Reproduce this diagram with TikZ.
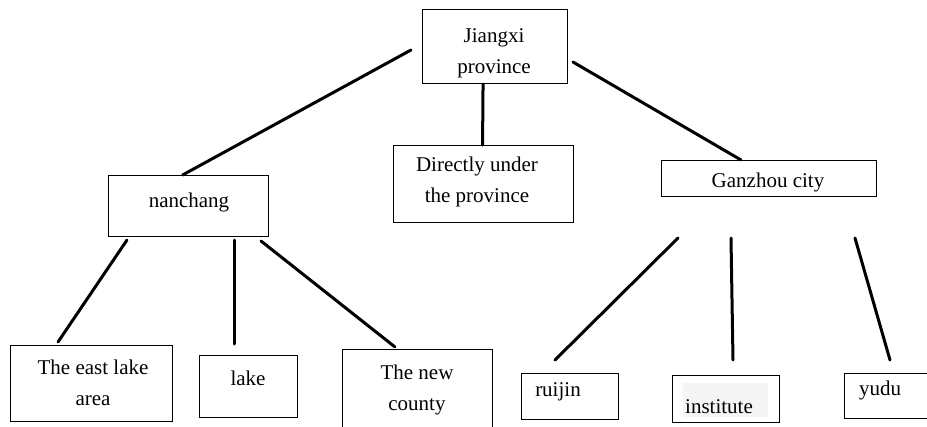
\documentclass[tikz,border=0pt]{standalone}
\usepackage{fontspec}
\setmainfont{Liberation Serif}
\begin{document}
\begin{tikzpicture}[x=1pt,y=-1pt,
  box/.style={draw,line width=1.1pt,inner sep=0pt,anchor=north west},
  lbl/.style={anchor=base,inner sep=0pt,align=center,font=\fontsize{21}{31}\selectfont},
  link/.style={line width=3pt,line cap=round}]
\useasboundingbox (0,0) rectangle (927,426);
% boxes: top-left corner, width, height
\node[box,minimum width=145pt,minimum height=74pt] (jx) at (422,9) {};
\node[box,minimum width=180pt,minimum height=77pt] (du) at (393,145) {};
\node[box,minimum width=160pt,minimum height=61pt] (nc) at (108,175) {};
\node[box,minimum width=215pt,minimum height=36pt] (gz) at (661,160) {};
\node[box,minimum width=162pt,minimum height=76pt] (el) at (10,345) {};
\node[box,minimum width=98pt,minimum height=62pt] (lk) at (199,355) {};
\node[box,minimum width=150pt,minimum height=80pt] (nw) at (342,349) {};
\node[box,minimum width=97pt,minimum height=46pt] (rj) at (521,373) {};
\node[box,minimum width=107pt,minimum height=47pt] (in) at (672,375) {};
\node[box,minimum width=90pt,minimum height=45pt] (yd) at (844,373) {};
\fill[black!4] (683,383) rectangle (768,417);
% texts (anchored at the baseline of the last line)
\node[lbl] (jx-t) at (494,73) {Jiangxi\\province};
\node[lbl] (du-t) at (477,202) {Directly under\\the province};
\node[lbl] (nc-t) at (189,207) {nanchang};
\node[lbl] (gz-t) at (768,187) {Ganzhou city};
\node[lbl] (el-t) at (93,405) {The east lake\\area};
\node[lbl] (lk-t) at (248,385) {lake};
\node[lbl] (nw-t) at (417,410) {The new\\county};
\node[lbl] (rj-t) at (558,396) {ruijin};
\node[lbl] (in-t) at (719,413) {institute};
\node[lbl] (yd-t) at (880,395) {yudu};
% free ends of the hand-drawn branches
\coordinate (jx-l) at (411,50);
\coordinate (jx-r) at (573,62);
\coordinate (nc-a) at (127,240);
\coordinate (nc-b) at (234,240);
\coordinate (nc-c) at (261,241);
\coordinate (gz-a) at (678,238);
\coordinate (gz-b) at (731,238);
\coordinate (gz-c) at (855,238);
\coordinate (el-e) at (58,342);
\coordinate (lk-e) at (234,344);
\coordinate (nw-e) at (395,347);
\coordinate (rj-e) at (555,360);
\coordinate (in-e) at (733,360);
\coordinate (yd-e) at (890,360);
% branches
\draw[link] (jx-l) -- ([xshift=-6pt]nc.north);
\draw[link] ([xshift=-12pt]jx.south) -- ([xshift=-1pt]du.north);
\draw[link] (jx-r) -- ([xshift=-28pt]gz.north);
\draw[link] (nc-a) -- (el-e);
\draw[link] (nc-b) -- (lk-e);
\draw[link] (nc-c) -- (nw-e);
\draw[link] (gz-a) -- (rj-e);
\draw[link] (gz-b) -- (in-e);
\draw[link] (gz-c) -- (yd-e);
\end{tikzpicture}
\end{document}
